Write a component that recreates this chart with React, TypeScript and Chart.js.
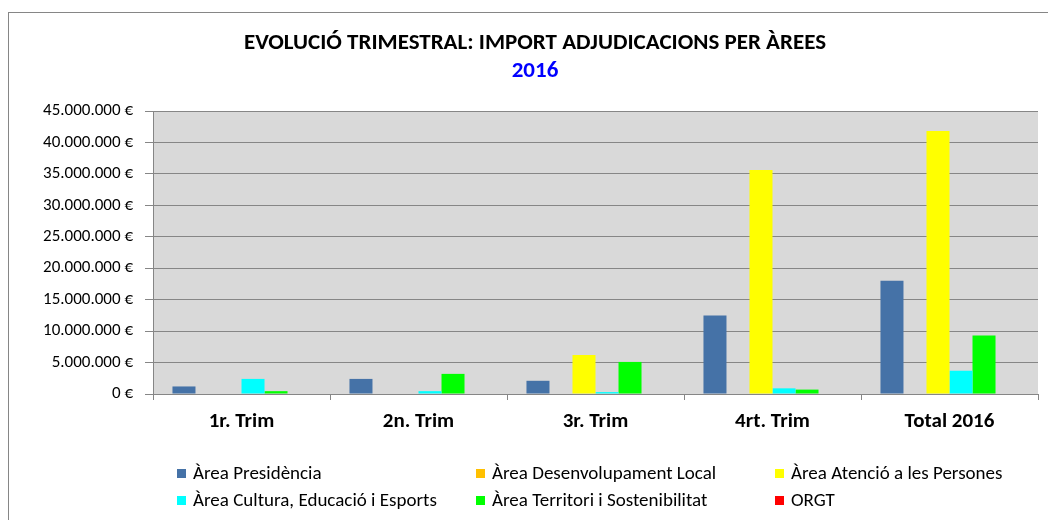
import React, { useEffect, useRef } from "react";
import { Chart, registerables } from "chart.js";

Chart.register(...registerables);

const categories = ["1r. Trim", "2n. Trim", "3r. Trim", "4rt. Trim", "Total 2016"];
const seriesNames = [
  "Àrea Presidència",
  "Àrea Desenvolupament Local",
  "Àrea Atenció a les Persones",
  "Àrea Cultura, Educació i Esports",
  "Àrea Territori i Sostenibilitat",
  "ORGT",
];
const seriesColors = ["#4572A7", "#FFC000", "#FFFF00", "#00FFFF", "#00FF00", "#FF0000"];
const presidencia = [1200000, 2400000, 2100000, 12500000, 18000000];
const desenvolupament = [0, 0, 0, 0, 0];
const atencio = [0, 0, 6200000, 35600000, 41800000];
const cultura = [2400000, 450000, 300000, 900000, 3700000];
const territori = [450000, 3200000, 5100000, 700000, 9300000];
const orgt = [0, 0, 0, 0, 0];
const seriesValues = [presidencia, desenvolupament, atencio, cultura, territori, orgt];
const yMax = 45000000;
const yStep = 5000000;
const titleLine1 = "EVOLUCIÓ TRIMESTRAL: IMPORT ADJUDICACIONS PER ÀREES";
const titleLine2 = "2016";

const FONT = "Carlito, Lato, 'Liberation Sans', sans-serif";

function fmt(v: number): string {
  return String(Math.round(v)).replace(/\B(?=(\d{3})+(?!\d))/g, ".") + " €";
}

const decorPlugin = {
  id: "decor",
  beforeDraw(chart: any) {
    const { ctx, chartArea, width, height } = chart;
    ctx.save();
    ctx.fillStyle = "#ffffff";
    ctx.fillRect(0, 0, width, height);
    ctx.fillStyle = "#D9D9D9";
    ctx.fillRect(chartArea.left, chartArea.top, chartArea.right - chartArea.left, chartArea.bottom - chartArea.top);
    ctx.strokeStyle = "#868686";
    ctx.lineWidth = 1;
    ctx.strokeRect(8.5, 12.5, 1100, 600);
    ctx.restore();
  },
  afterDraw(chart: any) {
    const { ctx } = chart;
    ctx.save();
    ctx.textAlign = "center";
    ctx.textBaseline = "middle";
    ctx.fillStyle = "#000000";
    ctx.font = "bold 23px " + FONT;
    ctx.fillText(titleLine1, 535, 43);
    ctx.fillStyle = "#0000FF";
    ctx.fillText(titleLine2, 535, 71);

    const colX = [177, 476, 775];
    const rowY = [473, 500];
    ctx.textAlign = "left";
    ctx.font = "19px " + FONT;
    chart.data.datasets.forEach((ds: any, i: number) => {
      const x = colX[i % 3];
      const y = rowY[Math.floor(i / 3)];
      ctx.fillStyle = ds.backgroundColor;
      ctx.fillRect(x, y - 4, 9, 9);
      ctx.fillStyle = "#000000";
      ctx.fillText(ds.label, x + 16, y + 1);
    });
    ctx.restore();
  },
};

export default function App() {
  const ref = useRef<HTMLCanvasElement | null>(null);
  useEffect(() => {
    if (!ref.current) return;
    const chart = new Chart(ref.current, {
      type: "bar",
      data: {
        labels: categories,
        datasets: seriesNames.map((name, i) => ({
          label: name,
          data: seriesValues[i],
          backgroundColor: seriesColors[i],
          borderWidth: 0,
          categoryPercentage: 0.78,
          barPercentage: 1,
        })),
      },
      options: {
        responsive: false,
        animation: false,
        events: [],
        layout: { padding: { top: 111, right: 10, left: 0, bottom: 0 } },
        plugins: {
          legend: { display: false },
          title: { display: false },
          tooltip: { enabled: false },
        },
        scales: {
          x: {
            afterFit: (scale: any) => {
              scale.height = 126;
            },
            grid: {
              drawOnChartArea: false,
              drawTicks: true,
              tickLength: 6,
              color: "#868686",
            },
            border: { display: true, color: "#868686" },
            ticks: {
              color: "#000000",
              font: { family: FONT, size: 21, weight: "bold" },
              padding: 9,
              maxRotation: 0,
            },
          },
          y: {
            min: 0,
            max: yMax,
            afterFit: (scale: any) => {
              scale.width = 153;
            },
            grid: { color: "#868686", tickLength: 8, drawTicks: true },
            border: { display: true, color: "#868686" },
            ticks: {
              stepSize: yStep,
              color: "#000000",
              padding: 12,
              font: { family: FONT, size: 17 },
              callback: (v: any) => fmt(Number(v)),
            },
          },
        },
      },
      plugins: [decorPlugin],
    });
    return () => chart.destroy();
  }, []);
  return (
    <div style={{ position: "fixed", left: 0, top: 0, width: 1048, height: 520, background: "#fff" }}>
      <canvas ref={ref} width={1048} height={520} style={{ display: "block" }} />
    </div>
  );
}
